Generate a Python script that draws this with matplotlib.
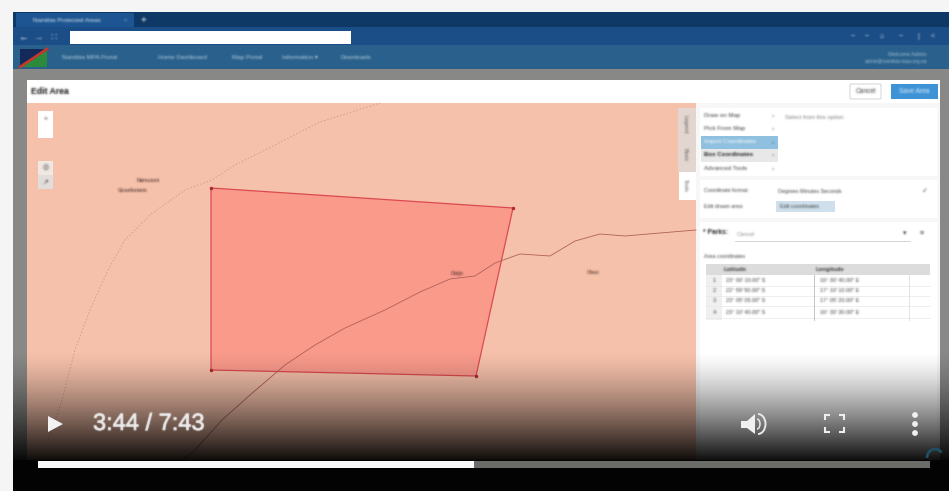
import numpy as np
import matplotlib
matplotlib.use('Agg')
import matplotlib.pyplot as plt
import matplotlib.patheffects as pe
from matplotlib.patches import Rectangle, Polygon, FancyBboxPatch, Circle, Arc

plt.rcParams['font.family'] = ['Liberation Sans', 'DejaVu Sans']

# area drawn on the map
area_x = [211, 513, 476, 211]
area_y = [188, 208, 376, 370]

# roads on the map
road_x = [172, 195, 222, 250, 285, 315, 345, 385, 420, 450, 475, 495, 520, 550, 575, 600, 625, 660, 696]
road_y = [470, 450, 420, 395, 365, 345, 328, 310, 292, 279, 276, 263, 254, 256, 241, 234, 236, 233, 230]
track_x = [48, 62, 75, 90, 108, 125, 150, 185, 212, 235, 275, 320, 380]
track_y = [440, 400, 350, 310, 270, 240, 215, 190, 180, 165, 145, 122, 103]

# text
map_labels = [(137, 180, 'Namutoni'), (118, 190, 'Grootfontein'), (451, 273, 'Outjo'), (587, 272, 'Otavi')]
nav_items = [(62, 'Namibia MPA Portal'), (158, 'Home Dashboard'), (232, 'Map Portal'),
             (282, 'Information \u25be'), (341, 'Downloads')]
menu_items = ['Draw on Map', 'Pick From Map', 'Import Coordinates', 'Box Coordinates', 'Advanced Tools']
menu_y = [115, 128, 142, 155, 169]
side_tabs = [(684, 124, 'Legend'), (684, 155, 'Basic'), (684, 185, 'Tools')]
lat_rows = ['23\u00b0 00\' 10.00" S', '22\u00b0 59\' 50.00" S', '23\u00b0 05\' 05.00" S', '23\u00b0 10\' 40.00" S']
lon_rows = ['16\u00b0 30\' 40.00" E', '17\u00b0 10\' 10.00" E', '17\u00b0 05\' 20.00" E', '16\u00b0 30\' 30.00" E']
row_y = [281, 291, 301, 313]
played_end = 474
time_text = '3:44 / 7:43'


def soften(img, dpi, kernel=(0.05, 0.22, 0.46, 0.22, 0.05)):
    # the video frame is blurry, so smear the coverage of each text a little
    pad = 3
    p = np.pad(img, ((pad, pad), (pad, pad), (0, 0)))
    a = p[..., 3]
    rgb = p[..., :3][a > 0.5 * a.max()].mean(axis=0) if a.max() > 0 else np.zeros(3)
    for axis in (0, 1):
        a = np.apply_along_axis(lambda m: np.convolve(m, kernel, 'same'), axis, a)
    p[..., :3] = rgb
    p[..., 3] = a
    return p, -pad, -pad


def soften_big(img, dpi):
    return soften(img, dpi, kernel=(0.0, 0.15, 0.7, 0.15, 0.0))


fig = plt.figure(figsize=(9.49, 4.91), dpi=100, facecolor='#f5f5f5')
ax = fig.add_axes([0, 0, 1, 1])
ax.set_xlim(0, 949)
ax.set_ylim(491, 0)
ax.axis('off')


def box(x0, y0, x1, y1, color, z=1, **kw):
    ax.add_patch(Rectangle((x0, y0), x1 - x0, y1 - y0, facecolor=color, edgecolor='none', zorder=z, **kw))


def label(x, y, s, size=4.5, color='#333333', alpha=0.95, z=5, **kw):
    kw.setdefault('va', 'center')
    t = ax.text(x, y, s, fontsize=size, color=color, alpha=alpha, zorder=z, **kw)
    t.set_agg_filter(soften)
    return t


# browser
box(13, 12, 949, 491, '#888886')
box(13, 12, 949, 27, '#0e3866')
box(16, 13, 134, 27, '#1c5591')
box(13, 27, 949, 45, '#1b4d86')
box(70, 31, 351, 44, 'white')
box(13, 45, 949, 69, '#2a618c')
label(33, 20, 'Namibia Protected Areas', size=4.4, color='#e4edf5')
label(126, 20, '<', size=4.5, color='#9fb8d2', ha='center')
label(143, 20, '+', size=7, color='white', ha='center', alpha=1)
label(23, 37, '\u2190', size=7, color='white', ha='center', alpha=1)
label(38, 37, '\u2192', size=7, color='#9fb8d2', ha='center', alpha=1)
label(54, 37, '\u2237', size=7, color='#e0e8f0', ha='center', alpha=1)
for px, s in zip([850, 864, 879, 898, 915, 930], ['\u2212', '\u2212', '\u2302', '\u2212', '|', '<']):
    label(px + 3, 36, s, size=5, color='#e0e8f0', ha='center')
# flag
box(20, 49, 47, 67, '#14285a')
ax.add_patch(Polygon([[20, 67], [47, 67], [47, 50]], facecolor='#2c8a3c', edgecolor='none', zorder=2))
ax.plot([20, 47], [67, 49], color='#c0392b', lw=2, zorder=3)
for px, s in nav_items:
    label(px, 57, s, size=4.5, color='#bcd2e2')
label(927, 54, 'Welcome Admin', size=3.8, color='#a8c4d6', ha='right')
label(927, 61, 'admin@namibia-mpa.org.na', size=3.5, color='#a8c4d6', ha='right')

# page title row and panel
box(27, 80, 940, 103, 'white')
label(31, 91, 'Edit Area', size=6.2, color='#111111', alpha=1, fontweight='bold')
ax.add_patch(FancyBboxPatch((850, 84), 31, 15, boxstyle='round,pad=0,rounding_size=1', facecolor='white',
                            edgecolor='#cccccc', lw=0.6, zorder=3))
label(865.5, 91.5, 'Cancel', size=4.8, ha='center')
box(891, 84, 938, 99, '#3d93d6', z=3)
label(914.5, 91.5, 'Save Area', size=4.8, ha='center', color='#e4f2fb', alpha=1)

# map
box(27, 103, 696, 465, '#f6c1ab')
ax.plot(track_x, track_y, color='#d69c8b', lw=0.7, ls=(0, (1.5, 2)), zorder=2)
ax.add_patch(Polygon(np.column_stack([area_x, area_y]), closed=True, facecolor='#f99a8b', edgecolor='#dc4a50',
                     lw=0.9, zorder=3))
ax.plot(area_x, area_y, ls='none', marker='o', ms=1.5, color='#b02a35', zorder=4)
ax.plot(road_x, road_y, color='#b0605a', lw=0.6, zorder=4)
for px, py, s in map_labels:
    label(px, py, s, size=3.9, color='#2a1510', ha='left')
# map buttons
box(38, 111, 53, 138, 'white', z=3)
label(45.5, 119, '+', size=5, ha='center')
box(38, 161, 53, 175, '#f0e6e2', z=3)
box(38, 175, 53, 189, '#e2dcda', z=3)
label(45.5, 168, '\u25ce', size=5, ha='center')
label(45.5, 182, '\u2197', size=5, ha='center')

# side panel
box(696, 103, 940, 465, '#f7f7f7')
box(700, 108, 937, 176, 'white', z=2)
box(700, 180, 937, 218, 'white', z=2)
box(700, 222, 937, 465, 'white', z=2)
for my, s in zip(menu_y, menu_items):
    if s == 'Import Coordinates':
        box(701, my - 6, 778, my + 7, '#8fc0e0', z=3)
        label(704, my, s, size=4.4, color='white', alpha=1)
    elif s == 'Box Coordinates':
        box(701, my - 6, 778, my + 7, '#e8e8e8', z=3)
        label(704, my, s, size=4.4, color='#222222', alpha=1, fontweight='bold')
    else:
        label(704, my, s, size=4.4)
    label(773, my, '\u203a', size=4.5, ha='center')
label(785, 117, 'Select from this option', size=4.2, color='#777777')
# tabs at the panel edge
box(678, 108, 696, 172, '#e3d6d0', z=3)
box(679, 172, 696, 200, 'white', z=3)
for px, py, s in side_tabs:
    label(px + 1, py, s, size=4.0, rotation=270, ha='center', color='#555555')
label(704, 191, 'Coordinate format:', size=3.9)
label(778, 191, 'Degrees Minutes Seconds', size=3.9)
label(704, 206, 'Edit drawn area:', size=3.9)
box(776, 201, 835, 212, '#cfe0ec', z=3)
label(780, 206.5, 'Edit coordinates', size=3.9)
label(925, 191, '\u2713', size=5, ha='center')
label(703, 233, '* Parks:', size=4.8, color='#222222', alpha=1, fontweight='bold')
label(737, 234, 'Cancel', size=4.2, color='#888888')
ax.plot([735, 910], [241, 241], color='#cccccc', lw=0.6, zorder=3)
label(905, 234, '\u25be', size=5, ha='center')
label(922, 233, '\u2261', size=5, ha='center')
label(704, 257, 'Area coordinates', size=3.9)
box(706, 264, 930, 275, '#dcdcdc', z=3)
label(724, 269.5, 'Latitude', size=4.2, fontweight='bold')
label(816, 269.5, 'Longitude', size=4.2, fontweight='bold')
box(706, 275, 722, 320, '#f0f0f0', z=3)
for i, ry in enumerate(row_y):
    label(714, ry, str(i + 1), size=4, ha='center')
    label(726, ry, lat_rows[i], size=3.9)
    label(820, ry, lon_rows[i], size=3.9)
    ax.plot([706, 930], [ry + 5, ry + 5], color='#e4e4e4', lw=0.4, zorder=3)
ax.plot([814, 814], [275, 320], color='#bbbbbb', lw=0.6, zorder=4)
ax.plot([909, 909], [275, 320], color='#dddddd', lw=0.6, zorder=4)

# player gradient
rows = np.arange(340, 461)
alpha = np.clip((rows - 350) / 110.0, 0, 1) ** 1.4 * 0.95
grad = np.zeros((len(rows), 1, 4))
grad[:, 0, 3] = alpha
ax.imshow(grad, extent=[13, 949, 461, 340], aspect='auto', zorder=8, interpolation='bilinear')
ax.set_xlim(0, 949)
ax.set_ylim(491, 0)
box(13, 460, 949, 491, '#030303', z=9)

# player controls
box(38, 461, played_end, 468, '#fafafa', z=10)
box(played_end, 461, 930, 468, '#6b6b68', z=10)
ax.add_patch(Polygon([[48, 416], [48, 432], [63, 424]], facecolor='#f2f2f2', edgecolor='none', zorder=10))
tt = ax.text(93, 424, time_text, fontsize=17, color='#eeeeee', va='center', ha='left', zorder=10,
             path_effects=[pe.withStroke(linewidth=0.5, foreground='#eeeeee')])
tt.set_agg_filter(soften_big)
# volume
ax.add_patch(Polygon([[741, 421], [747, 421], [755, 414], [755, 434], [747, 428], [741, 428]], facecolor='#f0f0f0',
                     edgecolor='none', zorder=10))
ax.add_patch(Arc((758, 424), 15, 20, theta1=-90, theta2=90, color='#e8e8e8', lw=1.4, zorder=10))
ax.add_patch(Arc((757, 424), 6, 10, theta1=-90, theta2=90, color='#e8e8e8', lw=1.1, zorder=10))
# fullscreen
cx0, cx1, cy0, cy1 = 825, 844, 415, 432
for sx, sy, dx, dy in [(cx0, cy0, 1, 1), (cx1, cy0, -1, 1), (cx0, cy1, 1, -1), (cx1, cy1, -1, -1)]:
    ax.plot([sx + 5 * dx, sx, sx], [sy, sy, sy + 5 * dy], color='#eeeeee', lw=1.5, zorder=10,
            solid_capstyle='butt', solid_joinstyle='miter')
# menu dots
for dy in [415, 424, 433]:
    ax.add_patch(Circle((915, dy), 2.9, facecolor='#f0f0f0', edgecolor='none', zorder=10))
# round button corner
ax.add_patch(Arc((935, 458), 16, 18, theta1=180, theta2=320, color='#1f4f63', lw=2, zorder=10))

fig.savefig('out.png', dpi=100, facecolor=fig.get_facecolor())
